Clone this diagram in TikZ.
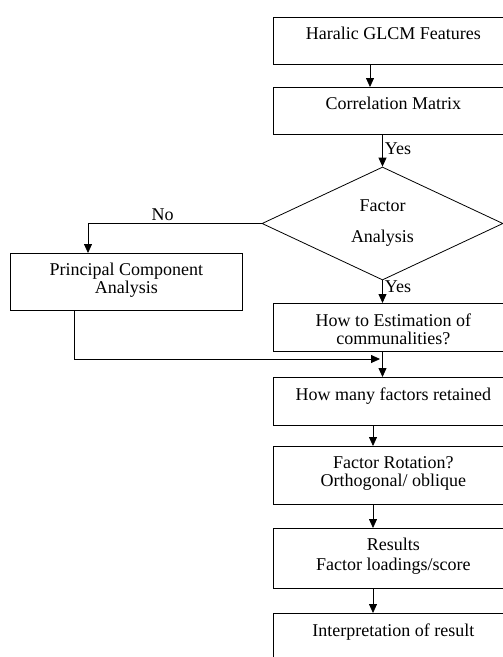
\documentclass[tikz,border=0pt]{standalone}
\usepackage{fontspec}
\setmainfont{Liberation Serif}
\usetikzlibrary{arrows.meta}
\usetikzlibrary{shapes.geometric}

\begin{document}
\begin{tikzpicture}[x=1pt, y=-1pt, line width=0.8pt,
  font=\fontsize{18}{18}\selectfont,
  box/.style={draw, rectangle, anchor=north west, minimum width=240, minimum height=#1, inner sep=0},
  txt/.style={label={[anchor=north, inner sep=0, yshift=-10, align=center]north:#1}},
  arr/.style={-{Triangle[length=9pt,width=8pt]}},
  lbl/.style={inner sep=2}]
\useasboundingbox (0,0) rectangle (503,657);
\clip (0,0) rectangle (503,657);

% main column
\node[box=47, txt={Haralic GLCM Features}] (haralic) at (273,17) {};
\node[box=47, txt={Correlation Matrix}] (corr) at (273,87) {};
\node[draw, diamond, minimum width=241, minimum height=113, inner sep=0, align=center]
  (factor) at (382.5,223.5) {Factor\\[13pt]Analysis};
\node[box=48, txt={How to Estimation of\\communalities?}] (estim) at (273,303) {};
\node[box=48, txt={How many factors retained}] (retain) at (273,377) {};
\node[box=58, txt={Factor Rotation?\\Orthogonal/ oblique}] (rotation) at (273,446) {};
\node[box=60, txt={Results\\[2pt]Factor loadings/score}] (results) at (273,528) {};
\node[box=60, txt={Interpretation of result}] (interp) at (273,613) {};

% side branch
\node[box=57, minimum width=232, txt={Principal Component\\Analysis}] (pca) at (10,253) {};

\coordinate (upper) at (370,0);
\coordinate (lower) at (373,0);
\coordinate (pcain) at (88,0);
\coordinate (pcaout) at (74,0);
\coordinate (join) at (380,359);

\draw[arr] (haralic.south -| upper) -- (corr.north -| upper);
\draw[arr] (corr.south -| factor.north) -- node[lbl, right, pos=0.45] (yes1) {Yes} (factor.north);
\draw[arr] (factor.south) -- node[lbl, right, pos=0.3] (yes2) {Yes} (estim.north -| factor.south);
\draw[arr] (factor.west) -| node[lbl, above, pos=0.285] (no) {No} (pca.north -| pcain);
\draw[arr] (pca.south -| pcaout) |- (join);
\draw[arr] (estim.south -| factor.south) -- (retain.north -| factor.south);
\draw[arr] (retain.south -| lower) -- (rotation.north -| lower);
\draw[arr] (rotation.south -| lower) -- (results.north -| lower);
\draw[arr] (results.south -| lower) -- (interp.north -| lower);
\end{tikzpicture}
\end{document}
